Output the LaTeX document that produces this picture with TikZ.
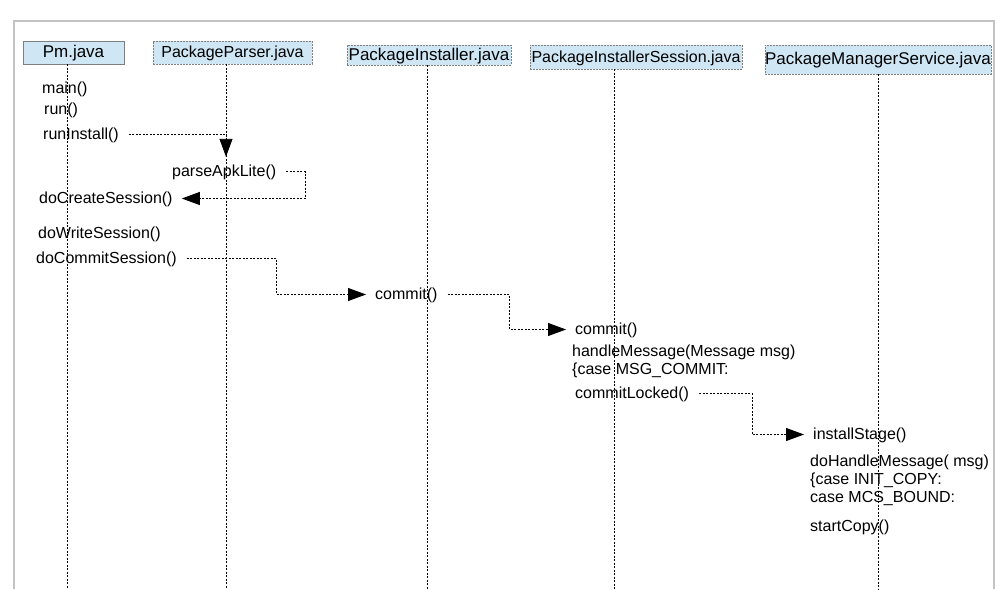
\documentclass[tikz,border=0pt]{standalone}
\usepackage{fontspec}
\setmainfont{Liberation Sans}
\usepackage{tikz}
\usetikzlibrary{arrows.meta,positioning}
\definecolor{hdrfill}{HTML}{CFE7F5}
\definecolor{hdrline}{HTML}{7F7F7F}
\definecolor{framegray}{HTML}{C3C3C3}

\begin{document}
\begin{tikzpicture}[x=1pt,y=-1pt,
  class/.style={draw=hdrline,fill=hdrfill,inner sep=0pt,text height=12pt,text depth=2pt,
    font=\fontsize{17}{19}\selectfont},
  classdash/.style={class,dash pattern=on 2pt off 1pt},
  call/.style={anchor=base west,inner sep=0pt,font=\fontsize{16}{18}\selectfont,text height=12pt,text depth=3pt},
  note/.style={anchor=north west,inner sep=0pt,align=left,font=\fontsize{16}{18}\selectfont},
  life/.style={draw,dash pattern=on 2pt off 1.5pt,line width=0.9pt},
  msg/.style={draw,dash pattern=on 2pt off 1.5pt,line width=0.9pt,
    -{Triangle[length=18pt,width=13pt]},shorten <=10pt,shorten >=9pt}]
\useasboundingbox (0,0) rectangle (1001,589);
\draw[framegray,line width=1.3pt] (14,589) -- (14,21) -- (994,21) -- (994,589);

% classes
\node[class,minimum width=101pt,minimum height=23pt] (pm) at (73.5,52.5) {Pm.java};
\node[classdash,font=\fontsize{16}{18}\selectfont,minimum width=159pt,minimum height=23pt] (pp) at (232.5,52.5) {PackageParser.java};
\node[classdash,minimum width=164pt,minimum height=20pt] (pi) at (429,55) {PackageInstaller.java};
\node[classdash,font=\fontsize{16}{18}\selectfont,minimum width=212pt,minimum height=24pt] (pis) at (636,57) {PackageInstallerSession.java};
\node[classdash,minimum width=222pt,minimum height=29pt] (pms) at (878,59.5) {PackageManagerService.java};

% lifelines
\coordinate (pmEnd) at (67,589);
\coordinate (ppEnd) at (226,589);
\coordinate (piEnd) at (427,589);
\coordinate (pisEnd) at (614,589);
\coordinate (pmsEnd) at (878,589);
\draw[life] (pmEnd |- pm.south) -- (pmEnd);
\draw[life] (ppEnd |- pp.south) -- (ppEnd);
\draw[life] (piEnd |- pi.south) -- (piEnd);
\draw[life] (pisEnd |- pis.south) -- (pisEnd);
\draw[life] (pmsEnd |- pms.south) -- (pmsEnd);

% calls
\node[call] (main) at (42,93) {main()};
\node[call] (run) at (44,114) {run()};
\node[call] (runInstall) at (43,139) {runInstall()};
\node[call] (parseApk) at (172,176) {parseApkLite()};
\node[call] (createSession) at (39,203) {doCreateSession()};
\node[call] (writeSession) at (38,238) {doWriteSession()};
\node[call] (commitSession) at (36,263) {doCommitSession()};
\node[call] (piCommit) at (375,299) {commit()};
\node[call] (pisCommit) at (575,334) {commit()};
\node[note] (handleMsg) at (572,345) {handleMessage(Message msg)\\\{case MSG\_COMMIT:};
\node[call] (commitLocked) at (575,398) {commitLocked()};
\node[call] (installStage) at (813,439) {installStage()};
\node[note] (doHandle) at (810,455) {doHandleMessage( msg)\\\{case INIT\_COPY:\\case MCS\_BOUND:};
\node[call] (startCopy) at (810,531) {startCopy()};

% messages
\draw[msg,shorten >=7pt] (runInstall.east) -| (parseApk.north -| ppEnd);
\draw[msg] (parseApk.east) -- ++(29,0) |- (createSession.east);
\draw[msg] (commitSession.east) -- ++(100,0) |- (piCommit.west);
\draw[msg] (piCommit.east) -- ++(72,0) |- (pisCommit.west);
\draw[msg] (commitLocked.east) -- ++(63,0) |- (installStage.west);
\end{tikzpicture}
\end{document}
